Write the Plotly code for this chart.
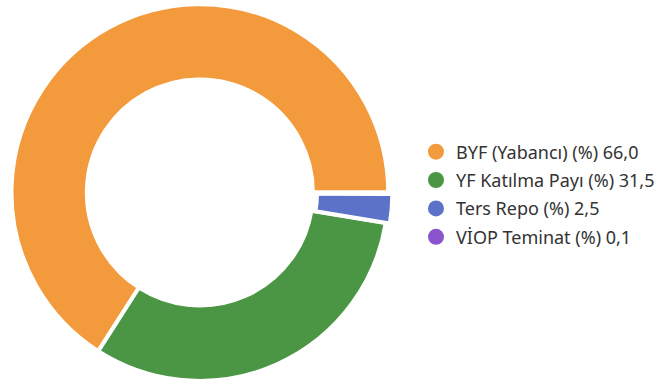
import plotly.graph_objects as go

# Portfolio allocation (percent)
labels = ["BYF (Yabancı) (%)", "YF Katılma Payı (%)", "Ters Repo (%)", "VİOP Teminat (%)"]
values = [66.0, 31.5, 2.5, 0.1]
colors = ["#F39A3C", "#4A9644", "#5C72C9", "#8A55CC"]
pulls = [0, 0, 0.022, 0]

# First slice ends at 3 o'clock, the rest follow counterclockwise
start_rotation = 90 - 360 * values[0] / sum(values)

fig = go.Figure()

fig.add_trace(go.Pie(
    labels=labels,
    values=values,
    hole=0.6,
    sort=False,
    direction="counterclockwise",
    rotation=start_rotation,
    pull=pulls,
    marker=dict(colors=colors, line=dict(color="white", width=4)),
    textinfo="none",
    hoverinfo="label+value",
    showlegend=False,
    domain=dict(x=[0, 0.614], y=[0, 1]),
))

# Legend entries with round markers
for i, (lab, val, col) in enumerate(zip(labels, values, colors)):
    fig.add_trace(go.Scatter(
        x=[None], y=[None],
        mode="markers",
        marker=dict(size=16, color=col, symbol="circle"),
        name=f"{lab} {val:.1f}".replace(".", ","),
        legendgroup=f"g{i}",
        showlegend=True,
        hoverinfo="skip",
    ))

fig.update_layout(
    width=660,
    height=385,
    margin=dict(l=0, r=0, t=0, b=0),
    paper_bgcolor="white",
    plot_bgcolor="white",
    font=dict(family="Noto Sans", size=18, color="#333333"),
    xaxis=dict(visible=False),
    yaxis=dict(visible=False),
    legend=dict(
        x=0.639, y=0.495, xanchor="left", yanchor="middle",
        font=dict(size=18, color="#333333"),
        itemsizing="trace",
        tracegroupgap=2,
        bgcolor="rgba(0,0,0,0)",
    ),
)

fig.write_html("out.html")
